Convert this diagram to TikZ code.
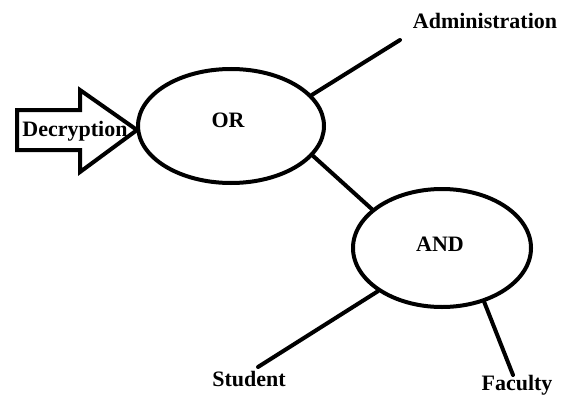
\documentclass[tikz,border=0pt]{standalone}
\usepackage{fontspec}
\setmainfont{Liberation Serif}
\usetikzlibrary{shapes.geometric, positioning}

\begin{document}
\begin{tikzpicture}[
    x=1pt, y=-1pt,
    gate/.style={ellipse, draw, line width=4pt, font=\fontsize{22}{26}\selectfont\bfseries},
    leaf/.style={font=\fontsize{22}{26}\selectfont\bfseries, inner sep=0pt},
    link/.style={line width=4pt, line cap=round},
    ]
    \useasboundingbox (0,0) rectangle (564,396);

    % Input arrow
    \draw[line width=4pt, line join=miter, fill=white]
        (17,110) -- (80,110) -- (80,90) -- (137,130) -- (80,172) -- (80,150) -- (17,150) -- cycle;
    \node[leaf] (decrypt) at (75,131) {Decryption};

    % Nodes
    \node[gate, minimum width=186pt, minimum height=114pt] (or) at (231,126) {};
    \node[leaf] (orlabel) at (228,120) {OR};
    \node[gate, minimum width=178pt, minimum height=118pt] (and) at (442,248) {};
    \node[leaf] (andlabel) at (440,244) {AND};
    \node[leaf] (admin) at (485,21) {Administration};
    \node[leaf] (student) at (249,379) {Student};
    \node[leaf] (faculty) at (517,385) {Faculty};

    % Free ends
    \coordinate (adminend) at (400,40);
    \coordinate (studentend) at (258,367);
    \coordinate (facultyend) at (513,375);

    % Edges
    \draw[link] (or.21) -- (adminend);
    \draw[link] (or.-20) -- (and.151);
    \draw[link] (and.214) -- (studentend);
    \draw[link] (and.-52) -- (facultyend);
\end{tikzpicture}
\end{document}
